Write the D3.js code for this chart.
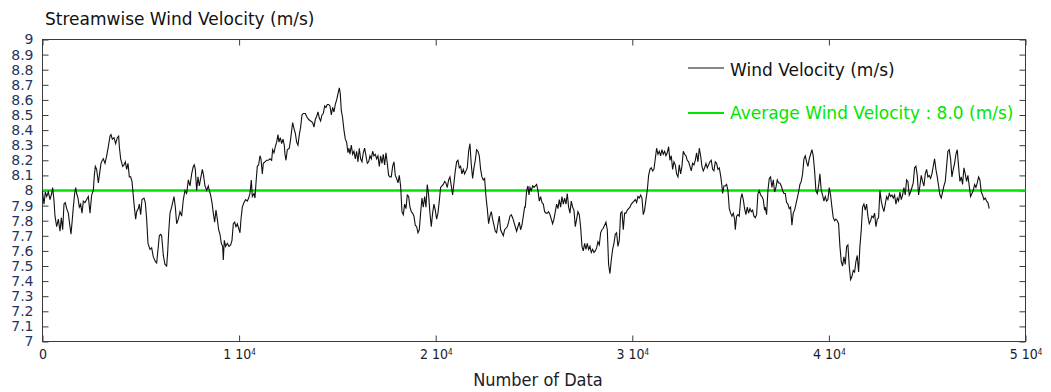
<!DOCTYPE html>
<html><head><meta charset="utf-8">
<script src="https://cdn.jsdelivr.net/npm/d3@7"></script>
<style>
html,body{margin:0;padding:0;background:#fff;}
svg{display:block;}
</style></head>
<body>
<svg id="chart" width="1051" height="392"></svg>
<script>
const xTickValues = [0, 10000, 20000, 30000, 40000, 50000];
const yTickValues = [7,7.1,7.2,7.3,7.4,7.5,7.6,7.7,7.8,7.9,8,8.1,8.2,8.3,8.4,8.5,8.6,8.7,8.8,8.9,9];
const yTickLabels = ["7","7.1","7.2","7.3","7.4","7.5","7.6","7.7","7.8","7.9","8","8.1","8.2","8.3","8.4","8.5","8.6","8.7","8.8","8.9","9"];
const averageVelocity = 8.0;
const seriesNames = ["Wind Velocity (m/s)", "Average Wind Velocity : 8.0 (m/s)"];

const sampleIndex = [0,9,76,144,212,297,382,466,517,585,636,721,805,890,958,1026,1094,1161,1229,1314,1399,1450,1517,1568,1636,1687,1738,1806,1873,1941,2009,2077,2162,2246,2331,2416,2501,2585,2636,2687,2755,2840,2891,2975,3043,3094,3179,3264,3348,3433,3484,3552,3637,3721,3806,3874,3908,3976,4077,4145,4213,4281,4349,4416,4484,4552,4620,4688,4739,4789,4874,4925,4993,5061,5162,5230,5298,5366,5467,5552,5637,5739,5807,5891,5942,6010,6061,6146,6230,6315,6366,6417,6485,6569,6620,6688,6756,6824,6908,6993,7078,7163,7248,7332,7417,7502,7587,7671,7722,7773,7841,7909,7977,8044,8129,8180,8265,8350,8434,8485,8553,8621,8689,8756,8824,8892,8960,9028,9095,9163,9197,9248,9316,9401,9485,9570,9638,9706,9774,9841,9909,9977,10045,10096,10163,10248,10333,10418,10486,10553,10621,10672,10757,10808,10859,10926,10994,11062,11113,11181,11232,11316,11401,11486,11571,11655,11706,11774,11842,11910,11977,12028,12096,12164,12232,12299,12333,
12384,12452,12554,12621,12723,12791,12859,12927,12994,13062,13130,13198,13266,13367,13435,13537,13639,13740,13808,13876,13944,14012,14079,14147,14215,14283,14351,14418,14486,14554,14622,14690,14758,14825,14893,14961,15029,15097,15147,15198,15266,15334,15402,15470,15537,15588,15639,15707,15775,15843,15910,15978,16046,16114,16182,16250,16317,16385,16453,16521,16589,16656,16724,16792,16860,16928,16995,17063,17131,17199,17267,17334,17402,17470,17538,17606,17673,17741,17809,17877,17945,18013,18080,18148,18216,18284,18352,18419,18487,18555,18623,18691,18758,18826,18894,18962,19030,19097,19165,19233,19301,19369,19437,19504,19572,19640,19708,19776,19843,19911,19979,20047,20115,20182,20250,20318,20386,20454,20521,20589,20657,20725,20793,20861,20928,20996,21064,21132,21200,21267,21335,21403,21471,21539,21606,21674,21742,21810,21878,21946,22013,22081,22149,22217,22285,22352,22420,22488,22556,22624,22691,22759,22827,22895,22963,23031,23098,23166,23234,23302,23370,23437,23505,23573,23641,23709,23776,23844,23912,23980,24048,24115,24183,24251,24319,24387,24455,24522,
24557,24625,24693,24744,24795,24862,24930,24998,25066,25134,25201,25269,25337,25405,25473,25540,25608,25676,25744,25812,25880,25947,26015,26083,26151,26219,26286,26354,26422,26490,26558,26625,26693,26761,26829,26897,26965,27032,27100,27168,27236,27304,27371,27439,27507,27575,27643,27710,27778,27846,27914,27982,28050,28117,28185,28253,28321,28389,28456,28524,28592,28660,28728,28795,28863,28931,28999,29067,29135,29202,29270,29338,29406,29474,29541,29609,29677,29745,29813,29880,29948,30016,30084,30152,30220,30287,30355,30423,30491,30559,30626,30694,30762,30830,30898,30965,31033,31101,31169,31237,31305,31372,31440,31508,31576,31644,31711,31779,31847,31915,31983,32050,32118,32186,32254,32322,32390,32457,32525,32593,32661,32729,32796,32864,32932,33000,33068,33135,33203,33271,33339,33407,33475,33542,33610,33678,33746,33814,33881,33949,34017,34085,34153,34220,34288,34356,34424,34492,34560,34593,34661,34729,34797,34865,34933,35000,35068,35136,35204,35238,35305,35373,35441,35509,35577,35645,35712,35780,35848,35916,35984,36051,36119,36187,36255,36323,36390,36458,36526,36594,36662,36729,
36763,36831,36899,36967,37034,37102,37170,37238,37306,37374,37441,37509,37577,37645,37713,37780,37848,37916,37984,38052,38119,38187,38255,38323,38391,38458,38526,38594,38662,38730,38798,38865,38933,39001,39069,39137,39204,39272,39340,39408,39476,39543,39611,39679,39747,39815,39883,39950,40018,40086,40154,40222,40289,40357,40425,40493,40561,40628,40696,40764,40832,40900,40967,41035,41103,41171,41239,41307,41374,41442,41510,41578,41646,41713,41781,41849,41917,41985,42052,42120,42188,42256,42324,42392,42459,42527,42595,42663,42731,42798,42866,42934,43002,43070,43138,43205,43273,43341,43409,43477,43544,43612,43680,43748,43816,43883,43951,44019,44087,44155,44223,44290,44358,44426,44494,44562,44629,44697,44765,44833,44901,44969,45036,45104,45172,45240,45308,45375,45443,45511,45579,45647,45714,45782,45850,45918,45986,46054,46121,46189,46257,46325,46393,46460,46528,46596,46664,46732,46799,46867,46935,47003,47071,47138,47206,47274,47342,47410,47478,47545,47613,47681,47749,47817,47884,47952,48020,48088,48156];

const windVelocity = [8.00,7.98,7.91,7.99,7.96,7.99,7.94,7.98,8.02,7.93,7.83,7.76,7.81,7.73,7.82,7.74,7.91,7.92,7.88,7.85,7.76,7.71,7.81,7.89,7.98,8.02,7.98,7.95,7.89,7.91,7.85,7.93,7.92,7.94,7.96,7.85,7.97,8.00,8.10,8.16,8.14,8.05,8.10,8.18,8.20,8.21,8.18,8.23,8.29,8.36,8.37,8.34,8.35,8.31,8.35,8.36,8.29,8.21,8.16,8.17,8.19,8.14,8.18,8.09,8.09,8.06,7.96,7.87,7.81,7.86,7.88,7.91,7.84,7.94,7.95,7.92,7.81,7.65,7.61,7.62,7.56,7.53,7.52,7.63,7.70,7.71,7.70,7.57,7.51,7.50,7.59,7.72,7.85,7.89,7.92,7.96,7.89,7.78,7.81,7.86,7.83,7.94,8.00,7.98,8.07,8.03,8.11,8.16,8.17,8.14,8.00,8.09,8.03,8.08,8.14,8.11,8.03,8.00,8.03,8.00,7.97,7.92,7.85,7.79,7.87,7.81,7.74,7.71,7.65,7.63,7.54,7.67,7.63,7.65,7.63,7.64,7.67,7.78,7.79,7.76,7.78,7.75,7.72,7.81,7.89,7.92,7.94,7.93,7.95,7.98,8.07,7.96,7.98,7.95,8.05,8.16,8.17,8.23,8.21,8.11,8.18,8.19,8.20,8.20,8.21,8.20,8.27,8.25,8.29,8.32,8.37,8.32,8.35,8.31,8.34,8.30,8.24,
8.20,8.27,8.28,8.34,8.45,8.41,8.38,8.32,8.30,8.37,8.42,8.50,8.51,8.51,8.49,8.47,8.46,8.45,8.42,8.47,8.49,8.52,8.48,8.46,8.50,8.51,8.56,8.55,8.57,8.57,8.56,8.50,8.55,8.52,8.57,8.60,8.64,8.68,8.64,8.53,8.48,8.40,8.34,8.32,8.25,8.28,8.24,8.30,8.24,8.26,8.21,8.26,8.19,8.28,8.21,8.19,8.25,8.28,8.23,8.18,8.19,8.23,8.21,8.26,8.23,8.24,8.21,8.23,8.16,8.23,8.18,8.24,8.17,8.25,8.18,8.10,8.09,8.09,8.16,8.19,8.10,8.08,8.05,8.10,8.03,7.86,7.84,7.91,7.88,7.97,7.96,7.89,7.86,7.85,7.83,7.77,7.76,7.72,7.74,7.85,7.95,7.89,7.96,7.89,8.04,7.97,7.85,7.76,7.85,7.91,7.87,7.81,7.85,7.93,8.02,8.03,8.04,8.06,8.05,8.02,8.07,8.09,8.03,7.97,8.05,8.13,8.19,8.20,8.15,8.16,8.11,8.14,8.11,8.13,8.15,8.26,8.31,8.17,8.08,8.15,8.20,8.27,8.26,8.23,8.14,8.09,8.07,8.08,7.96,7.88,7.78,7.83,7.86,7.81,7.77,7.73,7.72,7.78,7.83,7.74,7.72,7.70,7.74,7.75,7.76,7.79,7.83,7.84,7.82,7.79,7.76,7.73,7.76,7.79,7.74,7.77,7.83,7.89,
7.89,8.00,8.03,7.97,8.02,8.00,8.03,8.02,8.03,8.04,8.00,7.93,7.96,7.92,7.91,7.86,7.85,7.85,7.86,7.84,7.81,7.78,7.81,7.86,7.91,7.88,7.94,7.89,7.96,7.91,7.95,7.91,7.98,7.89,7.85,7.93,7.89,7.87,7.76,7.81,7.86,7.84,7.76,7.63,7.60,7.65,7.61,7.65,7.61,7.63,7.59,7.61,7.59,7.60,7.62,7.66,7.64,7.72,7.74,7.75,7.77,7.79,7.74,7.51,7.45,7.54,7.61,7.65,7.71,7.72,7.63,7.67,7.85,7.86,7.74,7.85,7.85,7.87,7.88,7.89,7.91,7.92,7.93,7.94,7.92,7.96,7.95,7.97,7.95,7.84,7.87,7.94,8.00,8.10,8.14,8.15,8.13,8.14,8.21,8.28,8.24,8.26,8.23,8.27,8.24,8.26,8.23,8.25,8.29,8.20,8.23,8.14,8.19,8.17,8.11,8.09,8.17,8.11,8.16,8.26,8.24,8.23,8.20,8.19,8.16,8.13,8.18,8.17,8.20,8.25,8.19,8.28,8.23,8.16,8.13,8.15,8.18,8.15,8.17,8.19,8.20,8.14,8.13,8.19,8.18,8.14,8.15,8.10,8.03,7.98,8.03,8.03,8.04,8.00,7.88,7.85,7.83,7.85,7.81,7.74,7.83,7.84,7.83,7.94,7.98,7.94,7.88,7.84,7.89,7.85,7.88,7.86,7.87,7.83,7.82,7.84,7.98,8.00,7.97,7.96,7.94,7.87,
7.89,7.84,8.00,8.08,8.09,8.02,8.07,7.99,8.02,8.07,8.05,8.05,8.03,8.00,7.98,7.98,7.92,7.91,7.88,7.89,7.77,7.85,7.87,7.91,7.95,7.99,8.04,8.06,8.11,8.21,8.23,8.19,8.16,8.21,8.24,8.27,8.23,8.13,8.00,7.98,8.03,8.11,8.00,7.97,7.93,7.96,7.93,7.94,8.02,7.97,7.89,7.82,7.80,7.81,7.80,7.78,7.63,7.53,7.50,7.56,7.51,7.63,7.64,7.50,7.41,7.43,7.47,7.46,7.53,7.57,7.46,7.63,7.74,7.89,7.91,7.87,7.91,7.83,7.78,7.80,7.83,7.82,7.85,7.76,7.81,7.82,8.00,7.93,7.89,7.86,7.91,7.96,7.94,7.98,7.96,7.97,7.95,7.97,7.91,7.95,7.93,7.99,7.94,7.97,8.02,7.97,8.07,8.06,7.97,7.99,8.02,8.05,8.15,8.16,8.10,7.97,8.03,8.10,8.06,8.03,8.11,8.14,8.09,8.10,8.08,8.11,8.16,8.21,8.14,8.09,8.03,7.97,7.95,7.99,8.03,8.06,8.16,8.26,8.27,8.21,8.09,8.14,8.18,8.24,8.27,8.16,8.06,8.09,8.04,8.15,8.11,8.06,8.10,8.03,7.96,7.98,8.00,8.04,8.02,8.05,8.09,8.07,7.99,7.97,7.94,7.95,7.93,7.92,7.88];

const margin = {left: 42.5, right: 1025.5, top: 39.5, bottom: 341.5};
const svg = d3.select("#chart");
const x = d3.scaleLinear().domain([0, 50000]).range([margin.left, margin.right]);
const y = d3.scaleLinear().domain([7, 9]).range([margin.bottom, margin.top]);

const labelFont = "DejaVu Sans, Verdana, sans-serif";
const condFont = "DejaVu Sans Condensed, DejaVu Sans, sans-serif";

// frame
svg.append("rect").attr("x", margin.left).attr("y", margin.top)
  .attr("width", margin.right - margin.left).attr("height", margin.bottom - margin.top)
  .attr("fill", "none").attr("stroke", "#3a3a3a").attr("stroke-width", 1);

// left axis
const yAxis = d3.axisLeft(y).tickValues(yTickValues)
  .tickFormat((d, i) => yTickLabels[i]).tickSizeInner(-6).tickSizeOuter(0).tickPadding(9);
const gy = svg.append("g").attr("transform", `translate(${margin.left},0)`).call(yAxis);
gy.select(".domain").remove();
gy.selectAll("line").attr("stroke", "#3a3a3a");
gy.selectAll("text").attr("font-family", labelFont).attr("font-size", "14px").attr("fill", "#1f3560");

// right axis ticks
const yAxisR = d3.axisRight(y).tickValues(yTickValues).tickFormat("").tickSizeInner(-6).tickSizeOuter(0);
const gyr = svg.append("g").attr("transform", `translate(${margin.right},0)`).call(yAxisR);
gyr.select(".domain").remove();
gyr.selectAll("line").attr("stroke", "#3a3a3a");

// bottom axis
const xAxis = d3.axisBottom(x).tickValues(xTickValues).tickSizeInner(-6).tickSizeOuter(0).tickPadding(8);
const gx = svg.append("g").attr("transform", `translate(0,${margin.bottom})`).call(xAxis);
gx.select(".domain").remove();
gx.selectAll("line").attr("stroke", "#3a3a3a");
gx.selectAll("text")
  .attr("font-family", condFont)
  .attr("font-size", "14px").attr("fill", "#1b1b2a")
  .each(function(d) {
    const t = d3.select(this);
    t.text(null);
    if (d === 0) { t.text("0"); return; }
    t.append("tspan").text(`${d / 10000} 10`);
    t.append("tspan").attr("dy", "-0.5em").attr("font-size", "8px").text("4");
  });

// top axis ticks
const xAxisT = d3.axisTop(x).tickValues(xTickValues).tickFormat("").tickSizeInner(-6).tickSizeOuter(0);
const gxt = svg.append("g").attr("transform", `translate(0,${margin.top})`).call(xAxisT);
gxt.select(".domain").remove();
gxt.selectAll("line").attr("stroke", "#3a3a3a");

// average line
svg.append("line")
  .attr("x1", x(0)).attr("x2", x(50000))
  .attr("y1", y(averageVelocity)).attr("y2", y(averageVelocity))
  .attr("stroke", "#00e600").attr("stroke-width", 2.6);

// data line
const pts = sampleIndex.map((v, i) => [v, windVelocity[i]]);
svg.append("path").datum(pts)
  .attr("d", d3.line().x(d => x(d[0])).y(d => y(d[1])))
  .attr("fill", "none").attr("stroke", "#111").attr("stroke-width", 1.1)
  .attr("stroke-linejoin", "miter");

// title
svg.append("text").attr("x", 45).attr("y", 25)
  .attr("font-family", labelFont).attr("font-size", "17px").attr("fill", "#111")
  .text("Streamwise Wind Velocity (m/s)");

// x label
svg.append("text").attr("x", 538).attr("y", 386).attr("text-anchor", "middle")
  .attr("font-family", condFont)
  .attr("font-size", "18px").attr("fill", "#1b1b2a")
  .text("Number of Data");

// legend
const legend = svg.append("g");
legend.append("line").attr("x1", 688).attr("x2", 724).attr("y1", 68).attr("y2", 68)
  .attr("stroke", "#111").attr("stroke-width", 1.1);
legend.append("text").attr("x", 730).attr("y", 76)
  .attr("font-family", labelFont).attr("font-size", "17px").attr("fill", "#111")
  .text(seriesNames[0]);
legend.append("line").attr("x1", 688).attr("x2", 724).attr("y1", 113).attr("y2", 113)
  .attr("stroke", "#00e600").attr("stroke-width", 2);
legend.append("text").attr("x", 730).attr("y", 119)
  .attr("font-family", labelFont).attr("font-size", "17px").attr("fill", "#00e600")
  .text(seriesNames[1]);
</script>
</body></html>
